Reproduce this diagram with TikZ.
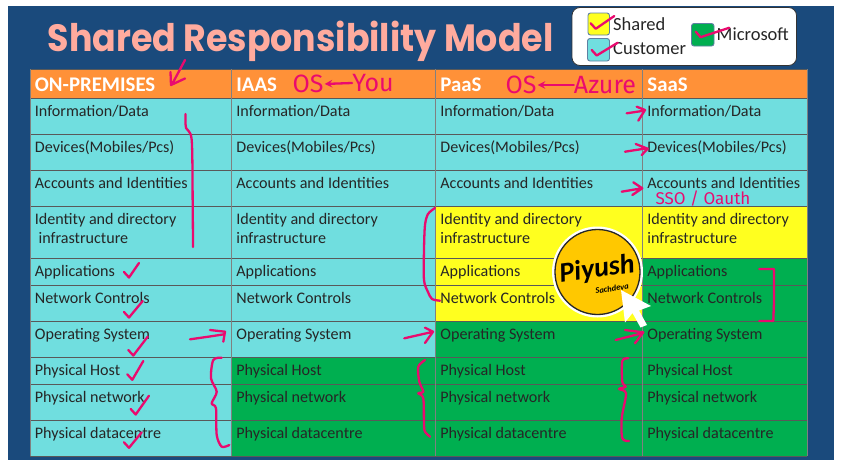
\documentclass[tikz,border=0pt]{standalone}
\usepackage{fontspec}
\setmainfont{Carlito}
\newfontfamily\titlefont{Poppins}
\newfontfamily\inkfont{Fira Sans}
\definecolor{slidebg}{HTML}{1A4A7C}
\definecolor{headorange}{HTML}{FF9138}
\definecolor{custcyan}{HTML}{70DEDF}
\definecolor{sharedyellow}{HTML}{FFFF1F}
\definecolor{msgreen}{HTML}{00AF50}
\definecolor{inkpink}{HTML}{EA0A6E}
\definecolor{titlepink}{HTML}{FFAB9E}
\definecolor{logogold}{HTML}{FFC800}
\tikzset{
	celltext/.style={anchor=base west,inner sep=0pt,font=\fontsize{16.1}{18}\selectfont,text=black!85},
	headtext/.style={anchor=base west,inner sep=0pt,font=\fontsize{20.8}{22}\selectfont\bfseries,text=white},
	legendtext/.style={anchor=base west,inner sep=0pt,font=\fontsize{18.5}{20}\selectfont,text=black!85},
	swatch/.style={draw=slidebg!70,line width=.9pt,rounded corners=2.5pt},
	ink/.style={draw=inkpink,line width=2.3pt,line cap=round,line join=round},
	inktext/.style={inner sep=0pt,text=inkpink,font=\inkfont\fontsize{#1}{#1}\selectfont},
}
\begin{document}
\begin{tikzpicture}[x=1pt,y=-1pt,line join=round,>=stealth]
	\useasboundingbox (0,0) rectangle (850,469);
	\def\xa{30} \def\xb{231.7} \def\xc{435.7} \def\xd{642.8} \def\xe{807.3}
	\fill[slidebg] (8,6) rectangle (834,460);
	\node[anchor=base west,inner sep=0pt,text=titlepink,font=\titlefont\bfseries\fontsize{38}{40}\selectfont] (title) at (47.5,51.5) {\scalebox{0.916}[1]{Shared Responsibility Model}};
	% legend
	\draw[fill=white,draw=black!80,line width=.8pt,rounded corners=8pt] (572,7.5) rectangle (796.5,65.5);
	\draw[swatch,fill=sharedyellow] (588,13) rectangle (609.5,35);
	\draw[swatch,fill=custcyan] (587.5,38.5) rectangle (609.5,61);
	\draw[swatch,fill=msgreen] (691.5,23.5) rectangle (714,46);
	\node[legendtext] (lgshared) at (613,30) {Shared};
	\node[legendtext] (lgcustomer) at (613,54) {Customer};
	\node[legendtext] (lgmicrosoft) at (716.5,40) {Microsoft};
	% colour blocks
	\fill[headorange] (\xa,69) rectangle (\xe,98.3);
	\fill[custcyan] (\xa,98.3) rectangle (\xb,456);
	\fill[custcyan] (\xb,98.3) rectangle (\xc,357.3);
	\fill[custcyan] (\xc,98.3) rectangle (\xe,206.3);
	\fill[sharedyellow] (\xc,206.3) rectangle (\xe,258.3);
	\fill[sharedyellow] (\xc,258.3) rectangle (\xd,321.3);
	\fill[msgreen] (\xb,357.3) rectangle (\xc,456);
	\fill[msgreen] (\xc,321.3) rectangle (\xd,357.3);
	\fill[msgreen] (\xc,357.3) rectangle (\xd,456);
	\fill[msgreen] (\xd,258.3) rectangle (\xe,456);
	% grid
	\foreach \y in {69,98.3,134.3,170.3,206.3,258.3,285.3,321.3,357.3,384.3,420.3,456}{
		\draw[black!65,line width=.7pt] (\xa,\y)--(\xe,\y);
	}
	\foreach \x in {\xa,\xb,\xc,\xd,\xe}{
		\draw[black!50,line width=.7pt] (\x,69)--(\x,456);
	}
	% texts
	\foreach \x/\c/\h in {34.7/a/ON-PREMISES,236.2/b/IAAS,440.2/c/PaaS,647.2/d/SaaS}{
		\node[headtext] (head\c) at (\x,91.5) {\h};
		\foreach \y/\r/\t in {116.5/1/{Information/Data},152.5/2/{Devices(Mobiles/Pcs)},188.5/3/{Accounts and Identities},224.5/4/{Identity and directory},276.5/5/{Applications},303.5/6/{Network Controls},339.5/7/{Operating System},375.5/8/{Physical Host},402.5/9/{Physical network},438.5/10/{Physical datacentre}}{
			\node[celltext] (\c\r) at (\x,\y) {\t};
		}
	}
	\node[celltext] (a4b) at (38.4,243.8) {infrastructure};
	\foreach \x/\c in {236.2/b,440.2/c,647.2/d}{
		\node[celltext] (\c4b) at (\x,243.8) {infrastructure};
	}
	% logo
	\fill[white] (597.5,272) circle (45.5);
	\draw[fill=logogold,draw=black!85,line width=1.3pt] (597.5,272) circle (42.5);
	\node[inner sep=0pt,rotate=8,font=\fontsize{28}{29}\selectfont\bfseries\itshape,text=black] (logoname) at (597,270) {Piyush};
	\node[inner sep=0pt,rotate=8,font=\fontsize{8.5}{9}\selectfont\bfseries\itshape,text=black] (logosub) at (612,288.5) {Sachdeva};
	\fill[white] (621,290)--(651,306)--(639,310.5)--(647,325)--(640.5,327.5)--(632.5,313)--(625,322.5)--cycle;
	% ink: words
	\node[inktext=25] (osyou) at (308,84) {OS};
	\node[inktext=25] (you) at (373,83) {You};
	\node[inktext=25] (osazure) at (521,85) {OS};
	\node[inktext=25] (azure) at (605,85) {Azure};
	\node[inktext=17] (sso) at (703,199) {SSO / Oauth};
	\draw[ink,->,shorten >=1pt] (you.west)--(osyou.east);
	\draw[ink,->,shorten >=1pt] (azure.west)--(osazure.east);
	% ink: ticks
	\foreach \p/\q/\s in {124/272/{139,263},124/312/{142.7,301},128.3/350/{147.7,336.7},127.3/374.3/{143.3,361},130.7/409/{149,395.7},124/442.3/{141.7,432.3},590.7/23.3/{614.3,16},591.7/50/{617.7,42.7},695.7/31.7/{729.3,27.7}}{
		\draw[ink] (\p,\q)--++(5,5.5)--(\s);
	}
	% ink: arrows
	\draw[ink] (185,60)--(177,75)--(171.7,85) (170.5,72)--(171,85)--(185,78.5);
	\draw[ink] (626.7,113.3)--(644,110.7) (636.7,106.7)--(645,110)--(638.3,120.7);
	\draw[ink] (625,151.7)--(646.7,148.3) (635.7,144)--(647.7,148.7)--(641.7,155);
	\draw[ink] (621.7,191.7)--(641.7,188.3) (633.3,182.3)--(642.3,188.3)--(632.3,195);
	\draw[ink] plot[smooth] coordinates {(190,339.3) (208.3,336.7) (224,334.3)};
	\draw[ink] (210,330)--(225,331.7)--(223.3,341.7);
	\draw[ink] (404.3,338.3)--(432,332) (425,327.7)--(433,331.7)--(425,343);
	\draw[ink] (615.7,340)--(641.7,333.3) (625,330)--(643.3,332.3)--(635,343.3);
	% ink: long strokes and braces
	\draw[ink] plot[smooth] coordinates {(185.5,114) (186,128) (191.7,140) (192.7,206) (193,247)};
	\draw[ink] plot[smooth] coordinates {(435,208) (428,214) (425,225) (424,249) (424,280) (428,292) (432,299) (440,300.7)};
	\draw[ink] plot[smooth] coordinates {(221.7,357.7) (213.3,360) (211,378.3) (216.7,391.7) (211.7,403.3) (216,408.3) (216.7,435) (221.7,446.7) (229.3,445)};
	\draw[ink] plot[smooth] coordinates {(425,360) (418.3,366.7) (419.3,381.7) (423.3,391.7) (418.3,393.3) (423.3,398.3) (424,425) (425,431.7) (430,436.7)};
	\draw[ink] plot[smooth] coordinates {(628.3,358.3) (622.3,361) (622.3,381.7) (625.7,386.7) (619,389) (626,393.3) (621.7,418.3) (622.3,438.3) (629,441)};
	\draw[ink] (759.3,269)--(774,269)--(774,301.7)--(773.3,321)--(759.3,321);
\end{tikzpicture}
\end{document}
